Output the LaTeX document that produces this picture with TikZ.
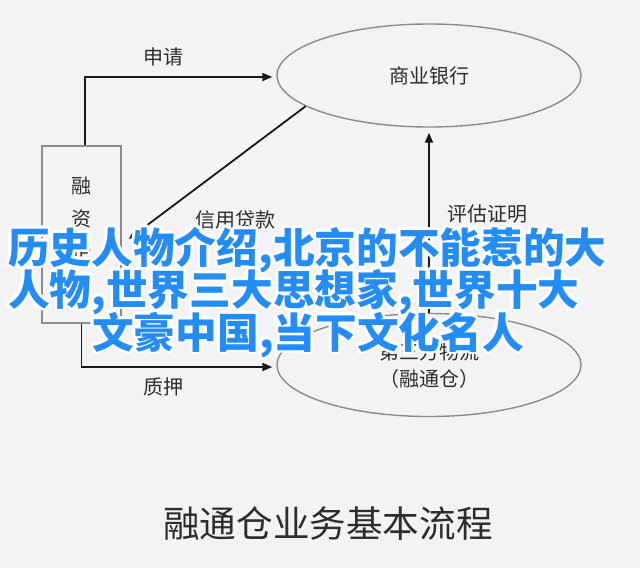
\documentclass[tikz,border=0pt]{standalone}
\usepackage{fontspec}
\setmainfont{Noto Sans CJK SC}
\usetikzlibrary{shapes.geometric,arrows.meta}
\definecolor{bg}{RGB}{243,243,245}
\definecolor{txt}{RGB}{45,45,45}
\definecolor{edgegrey}{RGB}{140,140,140}
\definecolor{wm}{RGB}{35,140,245}
\newcommand\hsh[3]{\makebox[0pt][l]{\hspace*{#1}\raisebox{#2}{\textcolor{white}{#3}}}}
\newcommand\halotxt[1]{%
\hsh{2.6pt}{0pt}{#1}\hsh{2.25pt}{1.3pt}{#1}\hsh{1.3pt}{2.25pt}{#1}\hsh{0pt}{2.6pt}{#1}%
\hsh{-1.3pt}{2.25pt}{#1}\hsh{-2.25pt}{1.3pt}{#1}\hsh{-2.6pt}{0pt}{#1}\hsh{-2.25pt}{-1.3pt}{#1}%
\hsh{-1.3pt}{-2.25pt}{#1}\hsh{0pt}{-2.6pt}{#1}\hsh{1.3pt}{-2.25pt}{#1}\hsh{2.25pt}{-1.3pt}{#1}%
\textcolor{wm}{#1}}
\tikzset{
  box/.style={draw=edgegrey, line width=1.4pt, minimum width=79pt, minimum height=177pt, inner sep=0pt, align=center, text=txt, font=\fontsize{20}{33}\selectfont},
  oval/.style={ellipse, draw=edgegrey, line width=1.4pt, minimum width=304pt, minimum height=103pt, inner sep=0pt, align=center, text=txt, font=\fontsize{20}{27}\selectfont},
  lbl/.style={text=txt, font=\fontsize{20}{20}\selectfont, inner sep=0pt},
  arr/.style={draw=black!90, line width=1.8pt, -{Triangle[length=10pt,width=8pt]}},
  wmtext/.style={font=\fontsize{41.7}{42}\selectfont\bfseries, inner sep=0pt, anchor=base west},
  titletext/.style={text=txt, font=\fontsize{36.6}{37}\selectfont, inner sep=0pt}
}
\begin{document}
\begin{tikzpicture}[x=1pt,y=-1pt]
\fill[bg] (0,0) rectangle (640,568);
\useasboundingbox (0,0) rectangle (640,568);
% nodes
\node[box] (qiye) at (81.5,234.5) {融\\资\\企\\业};
\node[oval] (bank) at (429,75.5) {商业银行};
\node[oval] (wl) at (429,365) {第三方物流\\（融通仓）};
% connectors
\draw[arr, shorten >=4pt] ([xshift=3.5pt]qiye.north) |- ([yshift=-1.5pt]bank.west);
\coordinate (dtip) at ([shift={(7,4.5)}]qiye.east);
\draw[arr] (bank.194.8) -- (dtip);
\draw[arr, shorten >=5pt] (wl.north) -- (bank.south);
\draw[arr, shorten >=4pt] (qiye.south) |- ([yshift=-2pt]wl.west);
% labels
\node[lbl] (l1) at (163,57) {申请};
\node[lbl] (l2) at (235,220) {信用贷款};
\node[lbl] (l3) at (487,214) {评估证明};
\node[lbl] (l4) at (163,387) {质押};
% title
\node[titletext] (title) at (328,524) {融通仓业务基本流程};
% overlay text
\node[wmtext] (w1) at (8,263) {\halotxt{历史人物介绍,北京的不能惹的大}};
\node[wmtext] (w2) at (8,305) {\halotxt{人物,世界三大思想家,世界十大}};
\node[wmtext] (w3) at (92,348) {\halotxt{文豪中国,当下文化名人}};
\end{tikzpicture}
\end{document}
